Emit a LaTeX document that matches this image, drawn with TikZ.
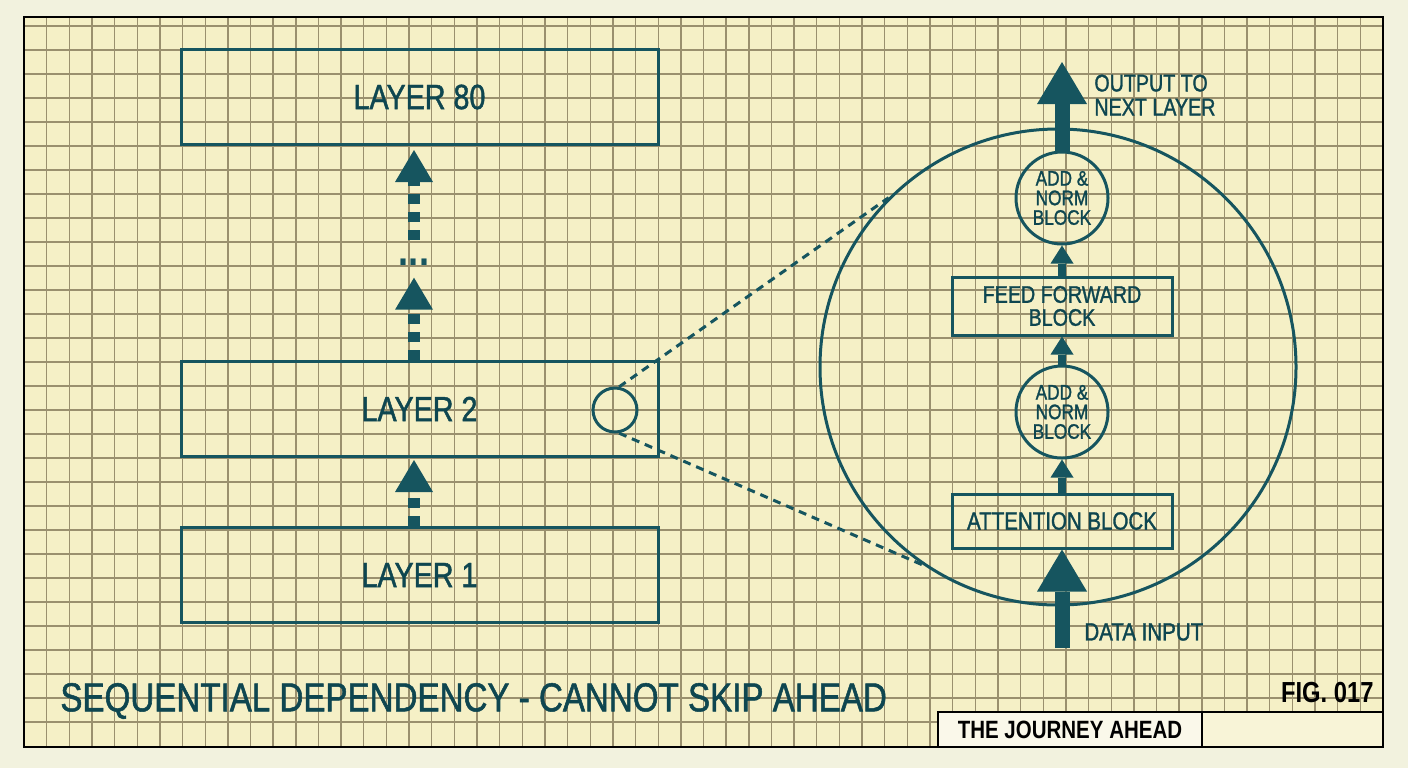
\documentclass[tikz,border=0pt]{standalone}
\usepackage{fontspec}
\setmainfont{Liberation Sans}[FakeStretch=0.82, UprightFeatures={FakeBold=1.3}]
\usepackage{xcolor}
\usetikzlibrary{arrows.meta,positioning}
\definecolor{paper}{HTML}{F5F0C6}
\definecolor{margin}{HTML}{F2F2DE}
\definecolor{gridc}{HTML}{9A906E}
\definecolor{tealc}{HTML}{16555F}
\definecolor{tealtxt}{HTML}{0E4650}
\definecolor{cellc}{HTML}{FAF8EA}

\begin{document}
\begin{tikzpicture}[x=0.5pt,y=-0.5pt]
        \tikzset{layer/.style={draw=tealc, line width=1.5pt, rectangle, minimum width=238.5pt, minimum height=47.5pt, text=tealtxt, font=\fontsize{17.5}{20}\selectfont},
        blk/.style={draw=tealc, line width=1.5pt, rectangle, align=center, minimum width=110pt, inner sep=1pt, text=tealtxt},
        addnorm/.style={draw=tealc, line width=1.5pt, circle, align=center, minimum size=46pt, inner sep=0pt, text=tealtxt, font=\fontsize{10.5}{9.8}\selectfont},
        dasharrow/.style={draw=tealc, line width=6pt, dash pattern=on 5pt off 4pt, -{Triangle[width=19pt,length=16pt,line width=0pt]}},
        smallarrow/.style={draw=tealc, line width=4pt, -{Triangle[width=11.5pt,length=9pt,line width=0pt]}},
        bigarrow/.style={draw=tealc, line width=7.5pt, -{Triangle[width=25pt,length=21pt,line width=0pt]}},
        zoomline/.style={draw=tealc, line width=1.5pt, dash pattern=on 4pt off 3pt},
        lbl/.style={text=tealtxt, inner sep=0pt, font=\fontsize{12}{12}\selectfont},
        tcell/.style={draw=black, line width=1pt, fill=cellc, outer sep=0pt, inner sep=0pt, minimum height=17.5pt},
        gridline/.style={draw=gridc, line width=0.7pt}
        }
        \useasboundingbox (0,0) rectangle (1408,768);
        %% paper and grid
        \fill[margin] (0,0) rectangle (1408,768);
        \fill[paper] (24,17) rectangle (1383,747);
        \foreach \i in {1,...,59} \draw[gridline] ({24+22.65*\i},17) -- ({24+22.65*\i},747);
        \foreach \j in {0,...,29} \draw[gridline] (24,{26+24*\j}) -- (1383,{26+24*\j});
        \draw[black, line width=1.2pt] (24,17) rectangle (1383,747);

        %% layer stack
        \node [layer] at (419.5,409) (l2) {LAYER 2};
        \node [layer, below=34pt of l2] (l1) {LAYER 1};
        \node [layer, above=107pt of l2] (l80) {LAYER 80};
        \node [text=tealc, inner sep=0pt, font=\bfseries\fontsize{22}{22}\selectfont] at (414,262) (dots) {...};
        \node [circle, draw=tealc, line width=1.5pt, minimum size=22pt, inner sep=0pt] at (615,410) (mag) {};

        %% zoomed view of one layer
        \node [circle, draw=tealc, line width=1.5pt, minimum size=238pt] at (1058,367) (zoomc) {};
        \node [blk, minimum height=27pt, font=\fontsize{12.5}{13}\selectfont] at (1062,521) (attn) {ATTENTION BLOCK};
        \node [addnorm, above=16.5pt of attn] (add1) {ADD \&\\NORM\\BLOCK};
        \node [blk, minimum height=29pt, font=\fontsize{12}{11.5}\selectfont, above=14pt of add1] (ffwd) {FEED FORWARD\\BLOCK};
        \node [addnorm, above=15pt of ffwd] (add2) {ADD \&\\NORM\\BLOCK};
        \coordinate (outtip) at (1062,62);  %% tip of the output arrow
        \coordinate (datain) at (1062,648); %% tail of the input arrow
        \node [lbl, anchor=west, align=left] at (1094,95) (outlbl) {OUTPUT TO\\NEXT LAYER};
        \node [lbl, anchor=west, font=\fontsize{12.5}{13}\selectfont] at (1084,632) (inlbl) {DATA INPUT};

        %% caption and title block
        \node [anchor=west, inner sep=0pt, text=tealtxt, font=\fontsize{20.2}{22}\selectfont] at (60,701) (caption) {SEQUENTIAL DEPENDENCY - CANNOT SKIP AHEAD};
        \node [anchor=east, inner sep=0pt, font=\bfseries\fontsize{14.5}{16}\selectfont] at (1374,692) (fig) {FIG. 017};
        \node [tcell, minimum width=132pt, font=\bfseries\fontsize{12.5}{14}\selectfont] at (1070,729.5) (journey) {THE JOURNEY AHEAD};
        \node [tcell, minimum width=90.5pt, fill=paper!70!white, right=0pt of journey] (blank) {};

%% paths
        \draw[dasharrow, shorten >=1pt] (l1.north -| dots) -- (l2.south -| dots);
        \draw[dasharrow, shorten >=6pt] (l2.north -| dots) -- (dots.south);
        \draw[dasharrow, shorten <=9pt, shorten >=2pt] (dots.north) -- (l80.south -| dots);
        \draw[zoomline] (mag.80) -- (zoomc.135);
        \draw[zoomline] (mag.280) -- (zoomc.236);
        \draw[bigarrow] (datain) -- (attn.south);
        \draw[smallarrow] (attn.north) -- (add1.south);
        \draw[smallarrow] (add1.north) -- (ffwd.south);
        \draw[smallarrow] (ffwd.north) -- (add2.south);
        \draw[bigarrow] (add2.north) -- (outtip);
    \end{tikzpicture}
\end{document}
